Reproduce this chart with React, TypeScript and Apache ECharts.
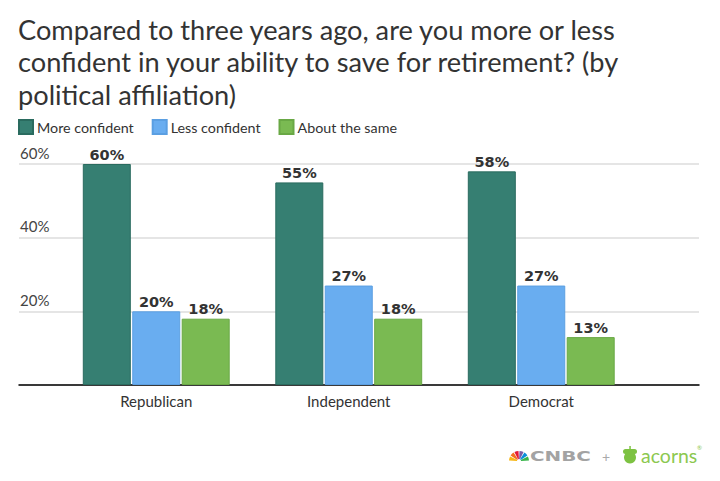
import React, { useEffect, useRef } from "react";
import * as echarts from "echarts";

const categories = ["Republican", "Independent", "Democrat"];
const moreConfident = [60, 55, 58];
const lessConfident = [20, 27, 27];
const aboutSame = [18, 18, 13];
const seriesNames = ["More confident", "Less confident", "About the same"];
const yTicks = { min: 0, max: 60, interval: 20 };
const titleLines = [
  "Compared to three years ago, are you more or less",
  "confident in your ability to save for retirement? (by",
  "political affiliation)",
];

const colors = ["#367f72", "#69adf0", "#7aba52"];
const borders = ["#2a6b5f", "#5b9fe2", "#69a845"];

export default function App() {
  const ref = useRef<HTMLDivElement>(null);
  useEffect(() => {
    if (!ref.current) return;
    document.body.style.margin = "0";
    const chart = echarts.init(ref.current, undefined, { renderer: "svg" });
    const font = "Lato";
    const mk = (name: string, data: number[], i: number) => ({
      name,
      type: "bar",
      xAxisIndex: 1,
      yAxisIndex: 1,
      data,
      barWidth: 48,
      barGap: "3%",
      itemStyle: { color: colors[i], borderColor: borders[i], borderWidth: 1 },
      label: {
        show: true,
        position: "top",
        distance: 2,
        formatter: (p: any) => p.value + "%",
        fontFamily: "DejaVu Sans",
        fontWeight: "bold",
        fontSize: 14.5,
        color: "#333",
      },
    });
    chart.setOption({
      animation: false,
      backgroundColor: "#fff",
      title: {
        text: titleLines.join("\n"),
        left: 18,
        top: 13,
        padding: 0,
        textStyle: {
          fontFamily: font,
          fontWeight: "normal",
          fontSize: 27.2,
          lineHeight: 32.5,
          color: "#333",
        },
      },
      legend: {
        left: 18,
        top: 119,
        padding: 0,
        itemWidth: 14,
        itemHeight: 14,
        itemGap: 18,
        icon: "rect",
        data: seriesNames,
        textStyle: { fontFamily: font, fontSize: 14.3, color: "#333", padding: [0, 0, 0, -1] },
      },
      grid: [
        { left: 19, right: 21, top: 164, bottom: 96 },
        { left: 60, width: 577.5, top: 164, bottom: 96 },
      ],
      xAxis: [
        {
          type: "value",
          gridIndex: 0,
          min: 0,
          max: 1,
          axisLine: { show: true, lineStyle: { color: "#000", width: 1.5 } },
          axisTick: { show: false },
          axisLabel: { show: false },
          splitLine: { show: false },
        },
        {
          type: "category",
          gridIndex: 1,
          data: categories,
          axisLine: { show: false },
          axisTick: { show: false },
          axisLabel: { margin: 8, fontFamily: font, fontSize: 15, color: "#333" },
        },
      ],
      yAxis: [
        {
          type: "value",
          gridIndex: 0,
          ...yTicks,
          axisLine: { show: false },
          axisTick: { show: false },
          splitLine: { lineStyle: { color: "#dddddd", width: 1.5 } },
          axisLabel: {
            inside: true,
            showMinLabel: false,
            margin: 1,
            verticalAlign: "bottom",
            padding: [0, 0, 4, 0],
            formatter: "{value}%",
            fontFamily: font,
            fontSize: 15,
            color: "#444",
          },
        },
        {
          type: "value",
          gridIndex: 1,
          ...yTicks,
          show: false,
        },
      ],
      series: [
        mk(seriesNames[0], moreConfident, 0),
        mk(seriesNames[1], lessConfident, 1),
        mk(seriesNames[2], aboutSame, 2),
      ],
      graphic: [
        ...["#f7b718", "#f37021", "#e31937", "#7b5ba6", "#0b8ed8", "#37b449"].map((c, i) => ({
          type: "sector",
          shape: {
            cx: 519,
            cy: 461,
            r: 10,
            r0: 2,
            startAngle: Math.PI + (i * Math.PI) / 6 + 0.05,
            endAngle: Math.PI + ((i + 1) * Math.PI) / 6 - 0.05,
          },
          style: { fill: c },
        })),
        {
          type: "text",
          x: 530,
          y: 456,
          scaleX: 1.42,
          style: {
            text: "CNBC",
            fontFamily: "DejaVu Sans",
            fontWeight: "bold",
            fontSize: 14,
            fill: "#a3a3a3",
            verticalAlign: "middle",
          },
        },
        {
          type: "text",
          x: 606,
          y: 456,
          style: { text: "+", fontFamily: font, fontSize: 14, fill: "#aaa", align: "center", verticalAlign: "middle" },
        },
        { type: "circle", shape: { cx: 630, cy: 457.5, r: 6 }, style: { fill: "#7dc242" } },
        { type: "rect", shape: { x: 623, y: 449, width: 14, height: 5, r: 2.5 }, style: { fill: "#7dc242" } },
        { type: "rect", shape: { x: 629.3, y: 446, width: 1.5, height: 3 }, style: { fill: "#7dc242" } },
        {
          type: "text",
          x: 641,
          y: 455,
          style: { text: "acorns", fontFamily: font, fontSize: 19.5, fill: "#8cc850", verticalAlign: "middle" },
        },
        {
          type: "text",
          x: 697,
          y: 447,
          style: { text: "®", fontFamily: font, fontSize: 6, fill: "#8cc850", verticalAlign: "middle" },
        },
      ],
    });
    return () => chart.dispose();
  }, []);
  return <div ref={ref} style={{ width: 720, height: 481 }} />;
}
